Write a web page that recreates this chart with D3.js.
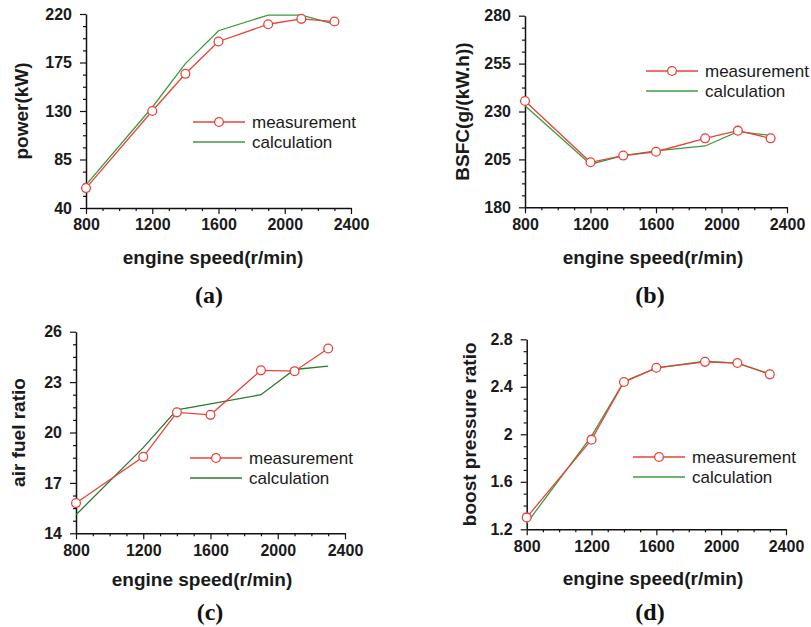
<!DOCTYPE html>
<html><head><meta charset="utf-8">
<script src="https://cdn.jsdelivr.net/npm/d3@7"></script>
<style>body{margin:0;background:#fff}svg{display:block}</style>
</head><body>
<script>
// ---- data ----
const speeds = [800, 1200, 1400, 1600, 1900, 2100, 2300];
const speedTicks = [800, 1200, 1600, 2000, 2400];
const powerMeas = [58.5, 130, 164.5, 194.5, 210.5, 215.5, 213];
const powerCalc = [61.5, 133.5, 174, 204.5, 219, 219, 210.5];
const powerTicks = [40, 85, 130, 175, 220];
const bsfcMeas = [235.5, 203.5, 207, 209, 216, 220, 216];
const bsfcCalc = [233, 202.5, 207, 209.5, 212, 219.5, 217.5];
const bsfcTicks = [180, 205, 230, 255, 280];
const afrMeas = [15.8, 18.55, 21.2, 21.05, 23.7, 23.65, 25.0];
const afrCalc = [15.1, 19.1, 21.35, 21.7, 22.25, 23.75, 23.95];
const afrTicks = [14, 17, 20, 23, 26];
const boostMeas = [1.30, 1.955, 2.44, 2.56, 2.61, 2.60, 2.505];
const boostCalc = [1.25, 1.985, 2.445, 2.56, 2.615, 2.60, 2.51];
const boostTicks = [1.2, 1.6, 2, 2.4, 2.8];
const seriesNames = ["measurement", "calculation"];
const xTitle = "engine speed(r/min)";

// ---- layout ----
const RED = "#e8433b", GREEN = "#3f9a40";
const panels = [
  {meas: powerMeas, calc: powerCalc, ticks: powerTicks, title: "power(kW)", label: "(a)",
   x0: 86, x1: 351, y0: 14, y1: 208, tX: 21, xtX: 213, xtY: 264, lX: 209, lY: 303,
   legX: 193, legY: 122, green: GREEN},
  {meas: bsfcMeas, calc: bsfcCalc, ticks: bsfcTicks, title: "BSFC(g/(kW.h))", label: "(b)",
   x0: 525, x1: 787, y0: 15.7, y1: 207.3, tX: 462, xtX: 653, xtY: 264, lX: 650, lY: 303,
   legX: 646, legY: 71, green: GREEN},
  {meas: afrMeas, calc: afrCalc, ticks: afrTicks, title: "air fuel ratio", label: "(c)",
   x0: 76, x1: 345, y0: 331.7, y1: 533.3, tX: 18, xtX: 202, xtY: 586, lX: 210, lY: 620,
   legX: 190, legY: 458, green: "#2d7a2f"},
  {meas: boostMeas, calc: boostCalc, ticks: boostTicks, title: "boost pressure ratio", label: "(d)",
   x0: 526.7, x1: 786, y0: 339.3, y1: 529.3, tX: 469, xtX: 653, xtY: 585, lX: 650, lY: 620,
   legX: 633, legY: 457, green: GREEN}
];

const svg = d3.select("body").append("svg").attr("width", 811).attr("height", 627);
const SANS = "'Liberation Sans', Arial, Helvetica, sans-serif";

panels.forEach(p => {
  const x = d3.scaleLinear().domain([800, 2400]).range([p.x0, p.x1]);
  const y = d3.scaleLinear().domain(d3.extent(p.ticks)).range([p.y1, p.y0]);
  const g = svg.append("g");
  const step = (p.ticks[1] - p.ticks[0]) / 4;
  const yMinor = d3.range(0, 17).map(i => p.ticks[0] + i * step).filter((v, i) => i % 4 !== 0);
  const xMinor = d3.range(800, 2401, 100).filter(v => (v - 800) % 400 !== 0);

  // minor ticks
  g.append("g").attr("transform", `translate(0,${p.y1})`)
    .call(d3.axisBottom(x).tickValues(xMinor).tickSize(3).tickSizeOuter(0).tickFormat(""))
    .call(a => a.select(".domain").remove());
  g.append("g").attr("transform", `translate(${p.x0},0)`)
    .call(d3.axisLeft(y).tickValues(yMinor).tickSize(3).tickSizeOuter(0).tickFormat(""))
    .call(a => a.select(".domain").remove());
  // major axes
  g.append("g").attr("transform", `translate(0,${p.y1})`)
    .call(d3.axisBottom(x).tickValues(speedTicks).tickSize(6).tickSizeOuter(0).tickPadding(5).tickFormat(d3.format("d")));
  g.append("g").attr("transform", `translate(${p.x0},0)`)
    .call(d3.axisLeft(y).tickValues(p.ticks).tickSize(6).tickSizeOuter(0).tickPadding(8).tickFormat(d => String(d)));
  g.selectAll(".tick line").attr("stroke", "#111").attr("stroke-width", 1.2);
  g.selectAll(".domain").attr("stroke", "#111").attr("stroke-width", 1.5);
  g.selectAll(".tick text").attr("font-family", SANS).attr("font-size", 16)
    .attr("font-weight", "bold").attr("fill", "#1a1a1a");

  // titles
  g.append("text").attr("x", p.xtX).attr("y", p.xtY).attr("text-anchor", "middle")
    .attr("font-family", SANS).attr("font-size", 19).attr("font-weight", "bold").attr("fill", "#1a1a1a")
    .text(xTitle);
  g.append("text").attr("transform", `translate(${p.tX},${(p.y0 + p.y1) / 2}) rotate(-90)`)
    .attr("text-anchor", "middle").attr("dy", "0.35em")
    .attr("font-family", SANS).attr("font-size", 19).attr("font-weight", "bold").attr("fill", "#1a1a1a")
    .text(p.title);
  g.append("text").attr("x", p.lX).attr("y", p.lY).attr("text-anchor", "middle")
    .attr("font-family", "'Liberation Serif', 'Times New Roman', serif").attr("font-size", 24)
    .attr("font-weight", "bold").attr("fill", "#111").text(p.label);

  // lines
  const line = d3.line().x((d, i) => x(speeds[i])).y(d => y(d));
  g.append("path").datum(p.calc).attr("d", line).attr("fill", "none")
    .attr("stroke", p.green).attr("stroke-width", 1.3);
  g.append("path").datum(p.meas).attr("d", line).attr("fill", "none")
    .attr("stroke", RED).attr("stroke-width", 1.3);
  g.selectAll("circle.m").data(p.meas).join("circle").attr("class", "m")
    .attr("cx", (d, i) => x(speeds[i])).attr("cy", d => y(d)).attr("r", 4.4)
    .attr("fill", "#fff").attr("stroke", RED).attr("stroke-width", 1.3);

  // legend
  const lg = g.append("g").attr("transform", `translate(${p.legX},${p.legY})`);
  lg.append("line").attr("x1", 0).attr("x2", 52).attr("y1", 0).attr("y2", 0)
    .attr("stroke", RED).attr("stroke-width", 1.3);
  lg.append("circle").attr("cx", 26).attr("cy", 0).attr("r", 4.4).attr("fill", "#fff")
    .attr("stroke", RED).attr("stroke-width", 1.3);
  lg.append("line").attr("x1", 0).attr("x2", 52).attr("y1", 20).attr("y2", 20)
    .attr("stroke", p.green).attr("stroke-width", 1.3);
  seriesNames.forEach((n, i) => {
    lg.append("text").attr("x", 59).attr("y", i * 20).attr("dy", "0.35em")
      .attr("font-family", SANS).attr("font-size", 17).attr("fill", "#1a1a1a").text(n);
  });
});
</script>
</body></html>
